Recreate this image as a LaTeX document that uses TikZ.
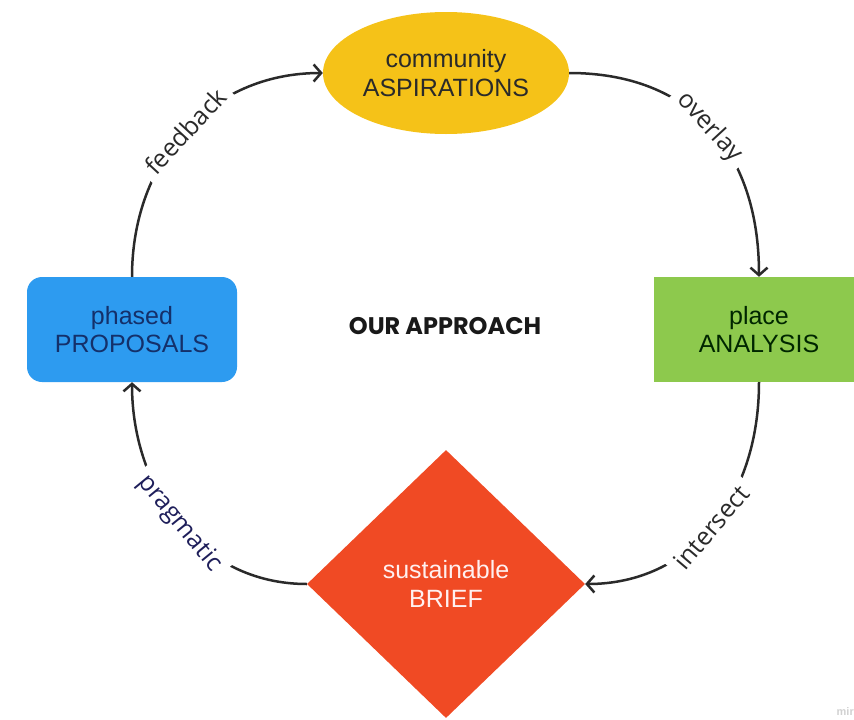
\documentclass[tikz,border=0pt]{standalone}
\usepackage{fontspec}
\setmainfont{Liberation Sans}
\newfontfamily\labelfont{Open Sans}
\newfontfamily\titlefont{Poppins}
\usetikzlibrary{shapes.geometric,arrows.meta}

\definecolor{aspyellow}{HTML}{F5C218}
\definecolor{placegreen}{HTML}{8DC94D}
\definecolor{phaseblue}{HTML}{2D9BF0}
\definecolor{briefred}{HTML}{F04A24}
\definecolor{linegray}{HTML}{2A2A2A}
\definecolor{navytext}{HTML}{14306A}
\definecolor{pragnavy}{HTML}{1E1E5A}

\tikzset{
  stagetext/.style={align=center, font=\fontsize{25}{28.5}\selectfont, inner sep=0pt},
  flowarc/.style={draw=linegray, line width=2.5pt,
    -{Straight Barb[length=7.5pt,width=17pt,line width=2.5pt]}},
  arclabel/.style={midway, sloped, fill=white, inner sep=7pt,
    font=\labelfont\fontsize{25}{28}\selectfont, text=linegray},
}

\begin{document}
\begin{tikzpicture}[x=1pt,y=-1pt]
  \useasboundingbox (0,0) rectangle (854,720);

  % the four stages
  \node[stagetext, ellipse, fill=aspyellow, text=linegray,
        minimum width=246pt, minimum height=122pt] (asp) at (446,73)
        {community\\ASPIRATIONS};
  \node[stagetext, rectangle, fill=placegreen, text=black!85!green,
        minimum width=210pt, minimum height=105pt] (place) at (759,329.5)
        {place\\ANALYSIS};
  \node[stagetext, rectangle, rounded corners=15pt, fill=phaseblue, text=navytext,
        minimum width=210pt, minimum height=105pt] (phase) at (132,329.5)
        {phased\\PROPOSALS};
  \node[stagetext, diamond, fill=briefred, text=white!94!red,
        minimum width=278pt, minimum height=268pt] (brief) at (446,584)
        {sustainable\\BRIEF};

  % centre title
  \node[font=\titlefont\bfseries\fontsize{24}{28}\selectfont, text=black!90] (title)
        at (445,326) {OUR APPROACH};

  % connectors round the cycle
  \draw[flowarc] (asp.east) .. controls (690,73) and (759,150) .. (place.north)
        node[arclabel] {overlay};
  \draw[flowarc] (place.south) .. controls (759,500) and (690,584) .. (brief.east)
        node[arclabel] {intersect};
  \draw[flowarc] (brief.west) .. controls (200,584) and (132,490) .. (phase.south)
        node[arclabel, text=pragnavy] {pragmatic};
  \draw[flowarc] (phase.north) .. controls (132,160) and (210,73) .. (asp.west)
        node[arclabel] {feedback};

  % corner mark
  \node[anchor=east, font=\bfseries\fontsize{11}{12}\selectfont, text=black!18,
        inner sep=0pt] (mark) at (854,712) {mir};
\end{tikzpicture}
\end{document}
